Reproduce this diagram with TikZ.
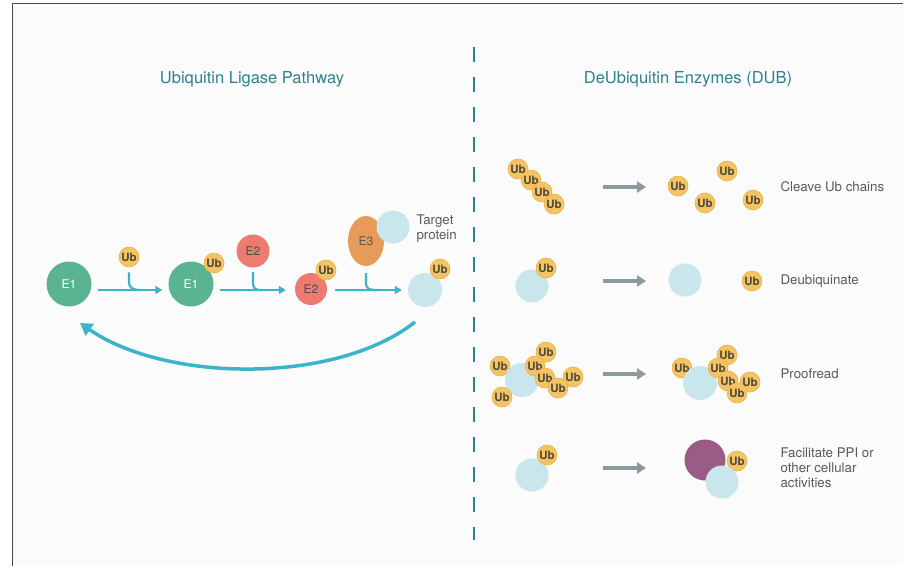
\documentclass[tikz,border=0pt]{standalone}
\usepackage{fontspec}
\setmainfont{TeX Gyre Heros}
\usetikzlibrary{arrows.meta,shapes.geometric}
\definecolor{ubfill}{HTML}{F4C462}
\definecolor{ubedge}{HTML}{ECB24C}
\definecolor{ubtext}{HTML}{4E4A3E}
\definecolor{eonegreen}{HTML}{5BB491}
\definecolor{etwored}{HTML}{EE7B6F}
\definecolor{ethreeorange}{HTML}{E89B58}
\definecolor{substrate}{HTML}{C8E6EC}
\definecolor{ppipurple}{HTML}{9B5B87}
\definecolor{flowteal}{HTML}{3DB3CB}
\definecolor{greyarrow}{HTML}{8B9B9D}
\definecolor{titleteal}{HTML}{2D8291}
\definecolor{labelgrey}{HTML}{5A5A5A}
\definecolor{framegrey}{HTML}{4A4A4A}
\tikzset{
  ub/.style={circle, fill=ubfill, draw=ubedge, line width=0.6pt, minimum size=20pt, inner sep=0pt,
    text=ubtext, font=\bfseries\fontsize{11.5}{12}\selectfont},
  enzyme/.style={circle, inner sep=0pt, text=white, font=\fontsize{12}{14}\selectfont},
  sub/.style={circle, fill=substrate, minimum size=33pt, inner sep=0pt},
  flow/.style={draw=flowteal, line width=2.2pt, -{Triangle[length=7pt,width=8pt]}},
  hookline/.style={draw=flowteal, line width=2.2pt},
  cycle/.style={draw=flowteal, line width=3.5pt, -{Triangle[length=12pt,width=14pt]}},
  dubarrow/.style={draw=greyarrow, line width=3.5pt, -{Triangle[length=9pt,width=11pt]}},
  heading/.style={text=titleteal, font=\fontsize{16.5}{19}\selectfont},
  caption/.style={text=labelgrey, anchor=west, align=left, font=\fontsize{13.3}{15}\selectfont},
}
\begin{document}
\begin{tikzpicture}[x=1pt, y=-1pt]
  % canvas and frame
  \fill[white] (0,0) rectangle (903,566);
  \fill[black!1.5] (13,4) rectangle (903,566);
  \useasboundingbox (0,0) rectangle (903,566);
  \draw[framegrey, line width=1pt] (12,566) -- (12,3) -- (903,3);

  % divider
  \coordinate (divtop) at (474,47);
  \coordinate (divbot) at (474,540);
  \draw[titleteal, line width=1.5pt, dash pattern=on 15pt off 15pt] (divtop) -- (divbot);

  % headings
  \node[heading] (headL) at (252,79) {Ubiquitin Ligase Pathway};
  \node[heading] (headR) at (688,79) {DeUbiquitin Enzymes (DUB)};

  % ---------------- ubiquitin ligase pathway ----------------
  \node[enzyme, fill=eonegreen, minimum size=45pt] (e1a) at (69,284) {E1};
  \node[ub] (ubfree) at (129,257) {Ub};

  \node[enzyme, fill=eonegreen, minimum size=45pt] (e1b) at (191,284) {E1};
  \node[ub] (ubeone) at (214,263) {Ub};

  \node[enzyme, fill=etwored, minimum size=33pt, text=black!70] (e2a) at (253,251) {E2};
  \node[enzyme, fill=etwored, minimum size=32pt, text=black!70] (e2b) at (311,289) {E2};
  \node[ub] (ubetwo) at (326,270) {Ub};

  \node[ellipse, fill=ethreeorange, minimum width=36pt, minimum height=50pt, inner sep=0pt,
        text=black!65, font=\fontsize{12}{14}\selectfont] (e3) at (366,241) {E3};
  \node[sub] (tgt) at (393,227) {};
  \node[caption, text=labelgrey] (tgtlabel) at (413,229) {Target\\protein};

  \node[sub, minimum size=34pt] (tgtub) at (425,290) {};
  \node[ub] (ubtgt) at (440,269) {Ub};

  % main flow
  \draw[flow] ([yshift=-6pt,xshift=6pt]e1a.east) -- ([yshift=-6pt,xshift=-6pt]e1b.west);
  \draw[flow] ([yshift=-6pt,xshift=6pt]e1b.east) -- ([yshift=-1pt,xshift=-9pt]e2b.west);
  \draw[flow] ([yshift=-1pt,xshift=8pt]e2b.east) -- ([xshift=-6pt]tgtub.west);

  % hooks feeding into the flow
  \draw[hookline] ([yshift=-5pt]ubfree.south) -- ++(0,9) .. controls +(0,7) and (133,290) .. (141,290);
  \draw[hookline] ([yshift=-4.5pt]e2a.south) -- ++(0,9) .. controls +(0,7) and (254,290) .. (262,290);
  \draw[hookline] ([yshift=-7pt]e3.south) -- ++(0,9) .. controls +(0,7) and (369,290) .. (377,290);

  % recycling arc
  \coordinate (cycstart) at (415,322);
  \coordinate (cycend) at (80,323);
  \draw[cycle] (cycstart) .. controls (335,385) and (165,382) .. (cycend);

  % ---------------- deubiquitin enzymes ----------------
  % row 1: cleave chains
  \node[ub] (c1) at (518,169) {Ub};
  \node[ub] (c2) at (531,180) {Ub};
  \node[ub] (c3) at (542,192) {Ub};
  \node[ub] (c4) at (554,204) {Ub};
  \coordinate (r1a) at (603,187);
  \coordinate (r1b) at (646,187);
  \draw[dubarrow] (r1a) -- (r1b);
  \node[ub] (s1) at (678,186) {Ub};
  \node[ub] (s2) at (727,171) {Ub};
  \node[ub] (s3) at (705,203) {Ub};
  \node[ub] (s4) at (753,200) {Ub};
  \node[caption] (lab1) at (777,187) {Cleave Ub chains};

  % row 2: deubiquinate
  \node[sub] (d1) at (532,286) {};
  \node[ub] (d1u) at (546,268) {Ub};
  \coordinate (r2a) at (603,281);
  \coordinate (r2b) at (646,281);
  \draw[dubarrow] (r2a) -- (r2b);
  \node[sub] (d2) at (685,280) {};
  \node[ub] (d2u) at (752,281) {Ub};
  \node[caption] (lab2) at (777,281) {Deubiquinate};

  % row 3: proofread
  \node[ub] (p1) at (500,366) {Ub};
  \node[sub, minimum size=34pt] (pc) at (522,380) {};
  \node[ub] (p2) at (546,352) {Ub};
  \node[ub] (p3) at (535,366) {Ub};
  \node[ub] (p4) at (573,377) {Ub};
  \node[ub] (p5) at (545,378) {Ub};
  \node[ub] (p6) at (558,388) {Ub};
  \node[ub] (p7) at (502,397) {Ub};
  \coordinate (r3a) at (603,374);
  \coordinate (r3b) at (646,374);
  \draw[dubarrow] (r3a) -- (r3b);
  \node[ub] (q1) at (682,368) {Ub};
  \node[sub, minimum size=34pt] (qc) at (700,383) {};
  \node[ub] (q2) at (727,355) {Ub};
  \node[ub] (q3) at (718,368) {Ub};
  \node[ub] (q4) at (750,382) {Ub};
  \node[ub] (q5) at (728,381) {Ub};
  \node[ub] (q6) at (737,393) {Ub};
  \node[caption] (lab3) at (777,374) {Proofread};

  % row 4: protein-protein interactions
  \node[sub] (f1) at (532,475) {};
  \node[ub] (f1u) at (547,455) {Ub};
  \coordinate (r4a) at (603,468);
  \coordinate (r4b) at (646,468);
  \draw[dubarrow] (r4a) -- (r4b);
  \node[circle, fill=ppipurple, minimum size=41pt, inner sep=0pt] (pp) at (705,460) {};
  \node[ub] (f2u) at (737,461) {Ub};
  \node[sub] (f2) at (722,482) {};
  \node[caption] (lab4) at (777,468) {Facilitate PPI or\\other cellular\\activities};
\end{tikzpicture}
\end{document}
